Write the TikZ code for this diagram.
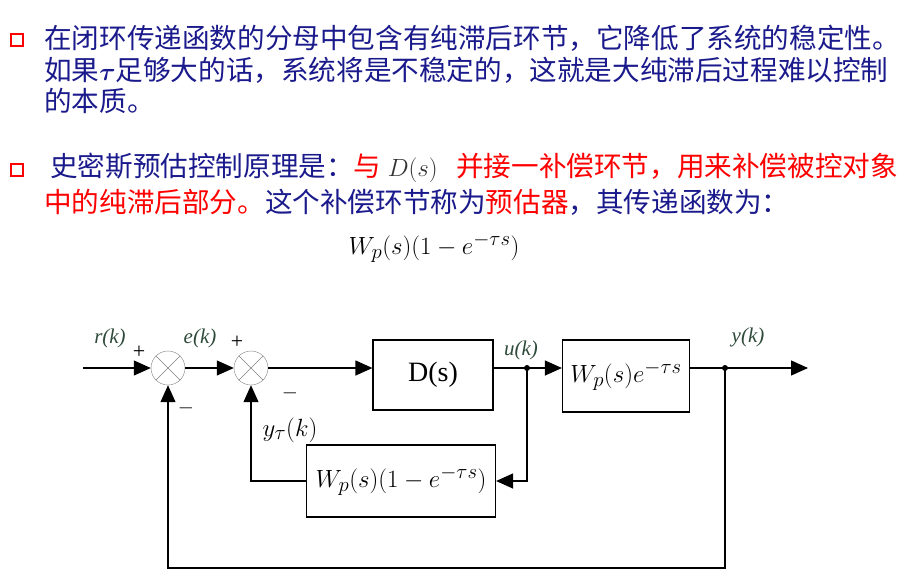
\documentclass[tikz,border=0pt]{standalone}
\usepackage{amsmath}
\usepackage{bm}
\usepackage{fontspec}
\setmainfont{Liberation Serif}
\newfontfamily\cjk{Noto Sans CJK SC}
\usetikzlibrary{arrows.meta, positioning, calc}
\definecolor{txtblue}{HTML}{1A1A8C}
\definecolor{txtred}{HTML}{FF0000}
\definecolor{sigcol}{HTML}{2E4A3A}
\tikzset{
  block/.style={draw, line width=1.2pt, inner sep=0pt},
  sumpt/.style={circle, draw=gray, minimum size=34pt, inner sep=0pt},
  sig/.style={line width=1.2pt, -{Triangle[length=17pt, width=15pt]}},
  lbl/.style={font=\fontsize{21}{23}\selectfont\itshape, text=sigcol},
  para/.style={anchor=west, font=\cjk\fontsize{27.6}{30}\selectfont, text=txtblue, inner sep=0pt},
  bullet/.style={draw=txtred, line width=2.5pt, minimum size=12pt, inner sep=0pt}
}
\begin{document}
\begin{tikzpicture}[x=1pt, y=-1pt]
  \useasboundingbox (0,0) rectangle (915,574);
  % text lines
  \node[bullet] (b1) at (17,40) {};
  \node[para] (l1) at (44,38) {在闭环传递函数的分母中包含有纯滞后环节，它降低了系统的稳定性。};
  \node[para] (l2) at (44,70) {如果$\bm{\tau}$足够大的话，系统将是不稳定的，这就是大纯滞后过程难以控制};
  \node[para] (l3) at (44,101) {的本质。};
  \node[bullet] (b2) at (17,170) {};
  \node[para] (l4) at (44,168) {\ 史密斯预估控制原理是：\textcolor{txtred}{与 \textcolor{black!80}{$D(s)$}\ \ \ 并接一补偿环节，用来补偿被控对象}};
  \node[para] (l5) at (44,202) {\textcolor{txtred}{中的纯滞后部分。}这个补偿环节称为\textcolor{txtred}{预估器}，其传递函数为：};
  \node[font=\fontsize{32}{34}\selectfont] (tf) at (434,248) {$W_p(s)(1-e^{-\tau s})$};
  % diagram
  \node[sumpt] (s1) at (168,368) {};
  \node[sumpt] (s2) at (251,368) {};
  \foreach \s in {s1,s2}{
    \draw[gray] (\s.north west) -- (\s.south east) (\s.north east) -- (\s.south west);
  }
  \node[block, minimum width=120pt, minimum height=70pt, font=\fontsize{28}{30}\selectfont] (ds) at (433,375) {D(s)};
  \node[block, minimum width=127pt, minimum height=72pt, font=\fontsize{30}{32}\selectfont] (wp) at (626,376) {$W_p(s)e^{-\tau s}$};
  \node[block, minimum width=189pt, minimum height=72pt, font=\fontsize{30}{32}\selectfont] (pr) at (401,481) {$W_p(s)(1-e^{-\tau s})$};
  \coordinate (in) at (83,368);
  \coordinate (ju) at (527,368);
  \coordinate (jy) at (725,368);
  \coordinate (out) at (808,368);
  \draw[sig] (in) -- (s1.west);
  \draw[sig] (s1.east) -- (s2.west);
  \draw[sig] (s2.east) -- (ds.west |- s2);
  \draw[sig] (ds.east |- ju) -- (wp.west |- ju);
  \draw[sig] (wp.east |- jy) -- (out);
  \draw[sig] (ju) |- (pr.east);
  \draw[sig] (pr.west) -| (s2.south);
  \draw[sig] (jy) -- ++(0,200) -| (s1.south);
  \fill (ju) circle (3pt) (jy) circle (3pt);
  % signal labels
  \node[lbl] (rk) at (110,338) {r(k)};
  \node[lbl] (ek) at (200,338) {e(k)};
  \node[lbl] (uk) at (521,350) {u(k)};
  \node[lbl] (yk) at (748,337) {y(k)};
  \node[font=\fontsize{22}{24}\selectfont] (p1) at (139,352) {+};
  \node[font=\fontsize{22}{24}\selectfont] (p2) at (237,342) {+};
  \node[font=\fontsize{22}{24}\selectfont] (m1) at (186,408) {$-$};
  \node[font=\fontsize{22}{24}\selectfont] (m2) at (290,393) {$-$};
  \node[font=\fontsize{28}{30}\selectfont] (yt) at (290,430) {$y_\tau(k)$};
\end{tikzpicture}
\end{document}
